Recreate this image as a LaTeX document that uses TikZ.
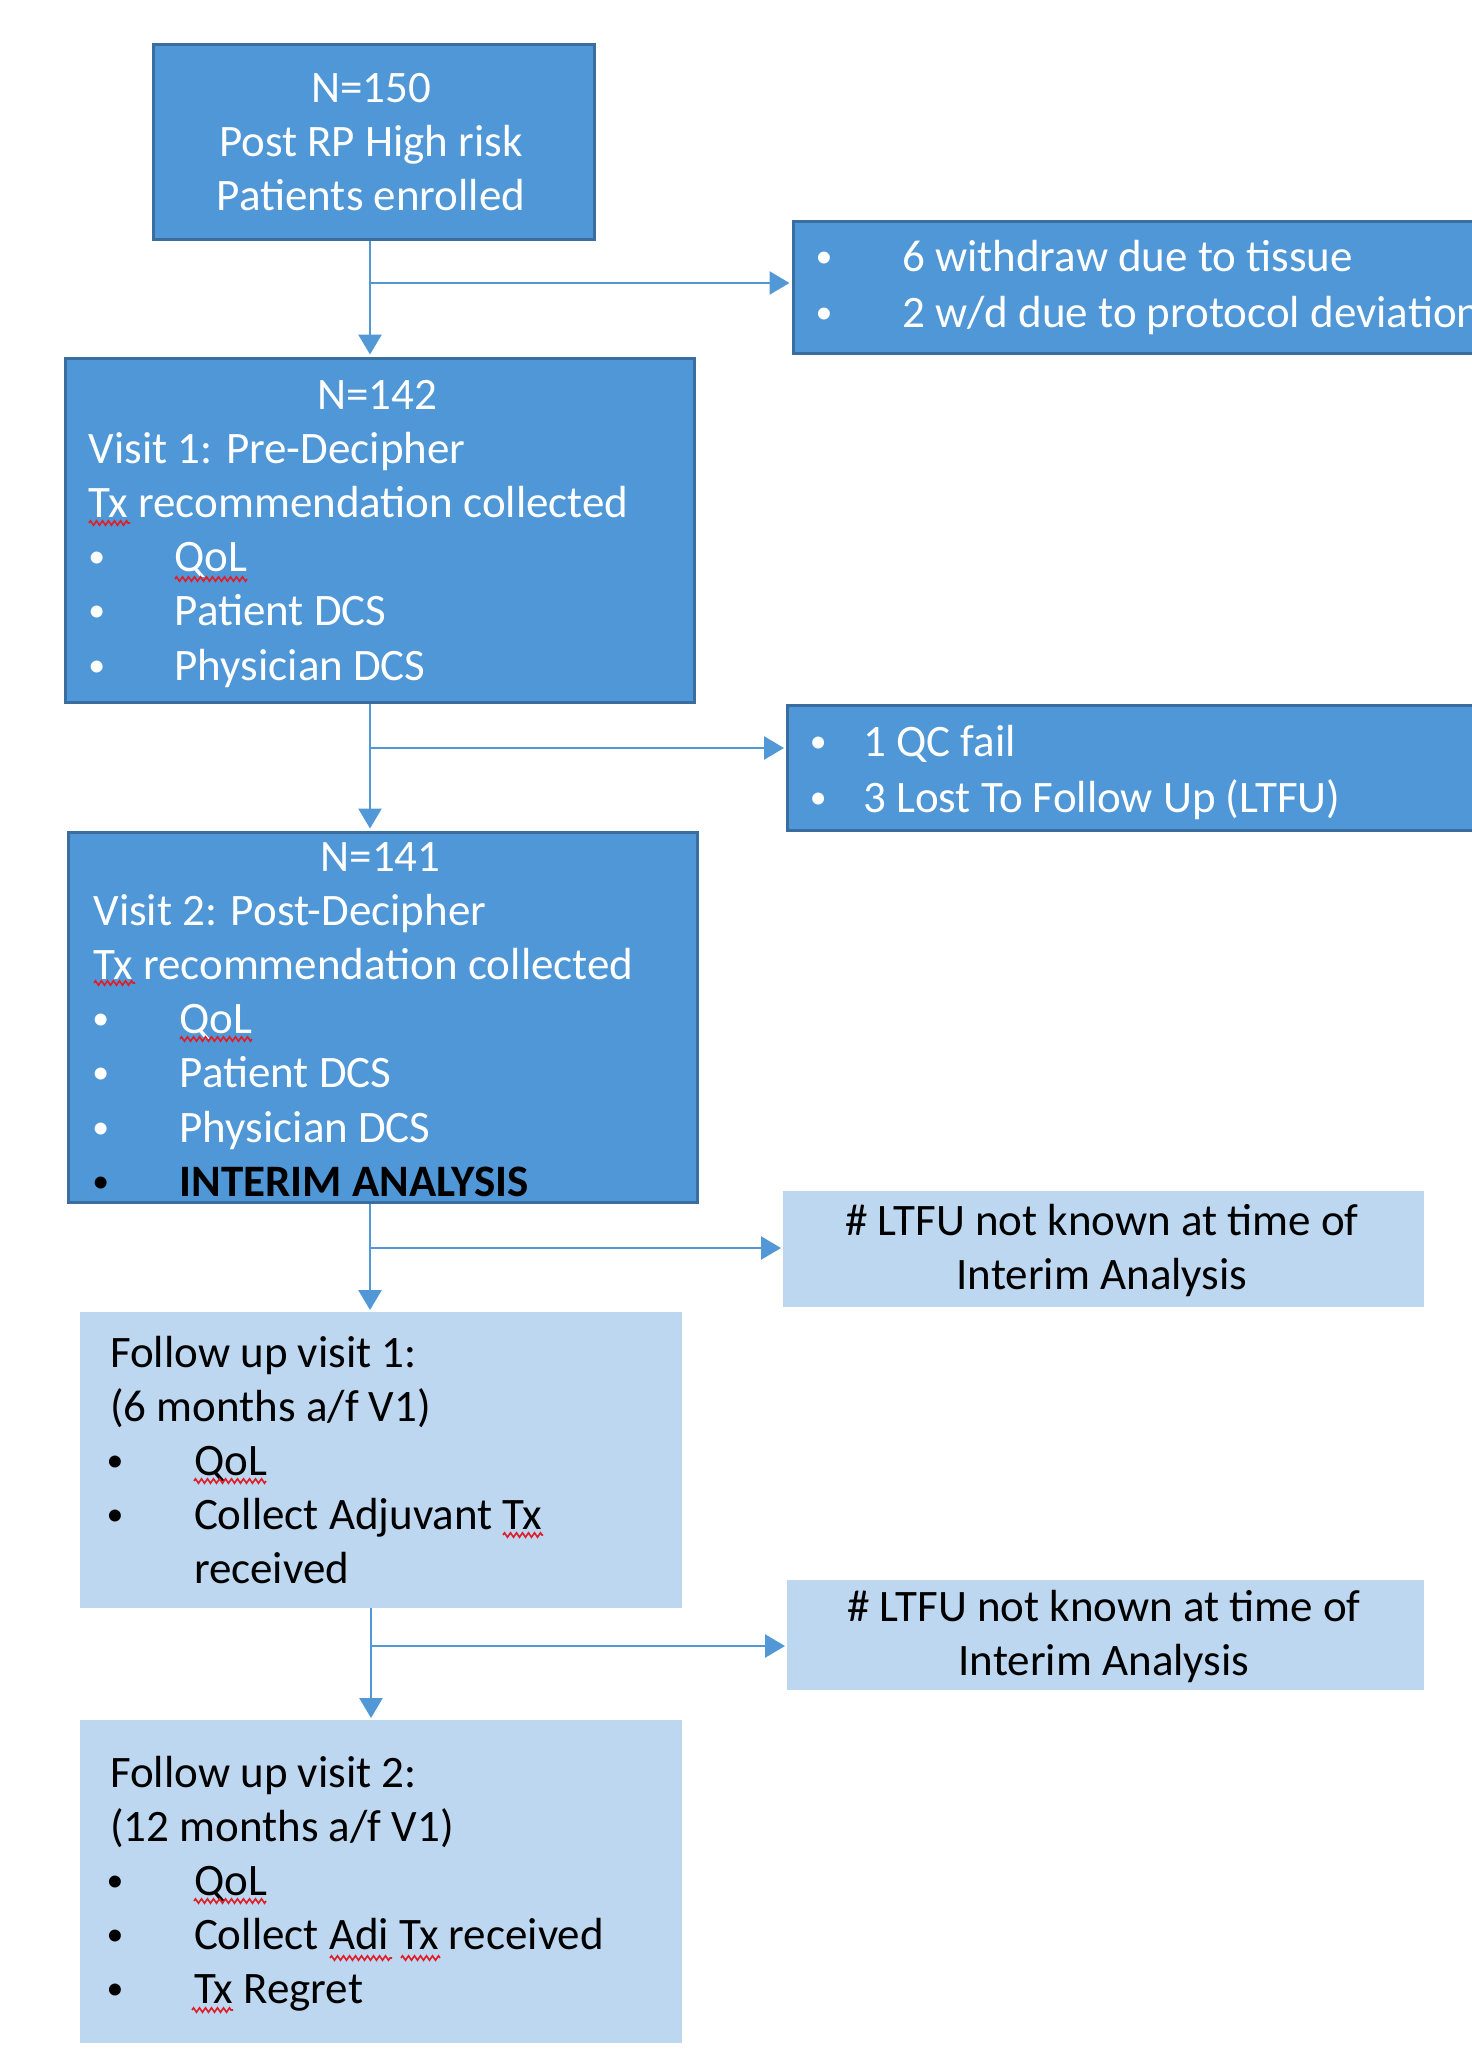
\documentclass[tikz,border=0pt]{standalone}
\usepackage{fontspec}
\usepackage{graphicx}
\setmainfont{Carlito}
\usetikzlibrary{arrows.meta,decorations.pathmorphing}
\definecolor{darkc}{RGB}{79,151,214}
\definecolor{borderc}{RGB}{58,110,158}
\definecolor{lightc}{RGB}{188,215,239}
\definecolor{arrowc}{RGB}{83,152,214}
\definecolor{sqred}{RGB}{225,30,40}
\newcommand\smbullet{\raisebox{4pt}{\scalebox{0.75}{\textbullet}}}
\newcommand\bul[3]{\hspace*{#1}\makebox[0pt]{\smbullet}\hspace*{#2}#3}
\begin{document}
\begin{tikzpicture}[x=1pt,y=-1pt,
  darkbox/.style={draw=borderc,line width=3pt,fill=darkc,inner sep=0pt,anchor=north west},
  lightbox/.style={fill=lightc,inner sep=0pt,anchor=north west},
  conn/.style={draw=arrowc,line width=2.7pt,-{Triangle[length=20pt,width=23pt]},shorten >=2pt},
  txt/.style={inner sep=0pt,anchor=base west,font=\fontsize{45}{54.2}\selectfont},
  txtc/.style={inner sep=0pt,anchor=base,font=\fontsize{45}{54}\selectfont},
  squig/.style={draw=sqred,line width=1.6pt,decorate,decoration={zigzag,segment length=6pt,amplitude=2.2pt}},
]
\useasboundingbox (0,0) rectangle (1472,2054);
\clip (0,0) rectangle (1472,2054);

% boxes
\node[darkbox,minimum width=441pt,minimum height=195pt] (b1) at (151.5,42.5) {};
\node[darkbox,minimum width=800pt,minimum height=132pt] (r1) at (791.5,219.5) {};
\node[darkbox,minimum width=629pt,minimum height=344pt] (b2) at (63.5,356.5) {};
\node[darkbox,minimum width=800pt,minimum height=125pt] (r2) at (786,703.5) {};
\node[darkbox,minimum width=629pt,minimum height=370pt] (b3) at (66.5,830.5) {};
\node[lightbox,minimum width=641pt,minimum height=116pt] (r3) at (783,1191) {};
\node[lightbox,minimum width=602pt,minimum height=296pt] (b4) at (80,1312) {};
\node[lightbox,minimum width=637pt,minimum height=110pt] (r4) at (787,1580) {};
\node[lightbox,minimum width=602pt,minimum height=323pt] (b5) at (80,1720) {};

% texts
\node[txtc,text=white] (t1) at (371,102) {\parbox[t]{440pt}{\centering N=150\\Post RP High risk\\Patients enrolled}};
\node[txt,text=white,font=\fontsize{45}{56}\selectfont] (tr1) at (815,271) {\parbox[t]{700pt}{\raggedright
  \bul{8.7pt}{78.3pt}{6 withdraw due to tissue}\\
  \bul{8.7pt}{78.3pt}{2 w/d due to protocol deviation}}};
\node[txt,text=white] (t2) at (88.5,409) {\parbox[t]{577pt}{\centering N=142\par\raggedright
  Visit 1: Pre-Decipher\\
  Tx recommendation collected\\
  \bul{8pt}{78pt}{QoL}\\
  \bul{8pt}{78pt}{Patient DCS}\\
  \bul{8pt}{78pt}{Physician DCS}}};
\node[txt,text=white,font=\fontsize{45}{56}\selectfont] (tr2) at (810,756) {\parbox[t]{700pt}{\raggedright
  \bul{8pt}{45pt}{1 QC fail}\\
  \bul{8pt}{45pt}{3 Lost To Follow Up (LTFU)}}};
\node[txt,text=white] (t3) at (93.3,871) {\parbox[t]{574pt}{\centering N=141\par\raggedright
  Visit 2: Post-Decipher\\
  Tx recommendation collected\\
  \bul{7.2pt}{79pt}{QoL}\\
  \bul{7.2pt}{79pt}{Patient DCS}\\
  \bul{7.2pt}{79pt}{Physician DCS}\\
  {\color{black}\bul{7.2pt}{79pt}{\textbf{INTERIM ANALYSIS}}}}};
\node[txtc,text=black] (tr3) at (1102,1235) {\parbox[t]{640pt}{\centering \# LTFU not known at time of\\Interim Analysis}};
\node[txt,text=black] (t4) at (110,1367) {\parbox[t]{560pt}{\raggedright
  Follow up visit 1:\\
  (6 months a/f V1)\\
  \bul{4.8pt}{79pt}{QoL}\\
  \bul{4.8pt}{79pt}{Collect Adjuvant Tx}\\
  \hspace*{83.8pt}received}};
\node[txtc,text=black] (tr4) at (1104,1621) {\parbox[t]{640pt}{\centering \# LTFU not known at time of\\Interim Analysis}};
\node[txt,text=black] (t5) at (110,1787) {\parbox[t]{560pt}{\raggedright
  Follow up visit 2:\\
  (12 months a/f V1)\\
  \bul{4.8pt}{79pt}{QoL}\\
  \bul{4.8pt}{79pt}{Collect Adi Tx received}\\
  \bul{4.8pt}{79pt}{Tx Regret}}};

% spell-check squiggles
\draw[squig] (89,523) -- (130,523);
\draw[squig] (175,579) -- (247,579);
\draw[squig] (94,983) -- (135,983);
\draw[squig] (180,1039) -- (252,1039);
\draw[squig] (194,1481) -- (266,1481);
\draw[squig] (503,1535) -- (543,1535);
\draw[squig] (194,1901) -- (266,1901);
\draw[squig] (330,1958) -- (392,1958);
\draw[squig] (401,1958) -- (440,1958);
\draw[squig] (192,2010) -- (233,2010);

% connectors
\coordinate (j1) at (370,283);
\coordinate (j2) at (370,748);
\coordinate (j3) at (370,1248);
\coordinate (j4) at (371,1646);
\draw[conn] (b1.south -| j1) -- (b2.north -| j1);
\draw[conn] (j1) -- (r1.west |- j1);
\draw[conn] (b2.south -| j2) -- (b3.north -| j2);
\draw[conn] (j2) -- (r2.west |- j2);
\draw[conn] (b3.south -| j3) -- (b4.north -| j3);
\draw[conn] (j3) -- (r3.west |- j3);
\draw[conn] (b4.south -| j4) -- (b5.north -| j4);
\draw[conn] (j4) -- (r4.west |- j4);
\end{tikzpicture}
\end{document}
